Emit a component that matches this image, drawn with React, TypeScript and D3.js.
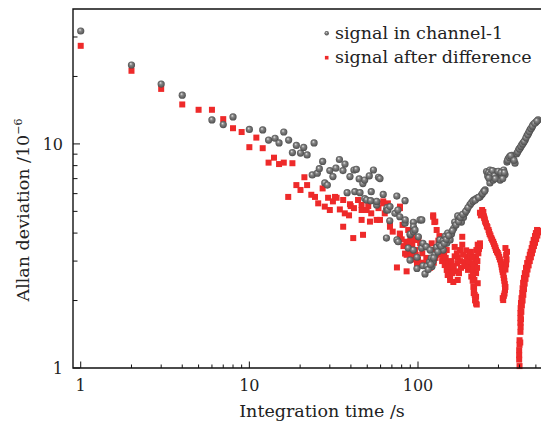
import React from "react";
import * as d3 from "d3";

// [integration time (s), Allan deviation (1e-6)]
const channel1: [number, number][] = [
  [1, 31.9], [2, 22.5], [3, 18.5], [4, 16.5], [6, 12.8], [7, 12.2], [8, 13.2], [10, 11.6],
  [12, 11.55], [13, 10.4], [14.2, 10.6], [15, 10.1], [16, 11.3], [17.1, 10.4], [18, 9.15],
  [19, 9.85], [20.1, 9.1], [21, 9.65], [22, 8.93], [23.6, 7.27], [24.2, 10.1], [25.3, 7.4],
  [26, 7.75], [27.2, 8.35], [28, 6.7], [29, 6.55], [30, 7.6], [31.3, 7.15], [32.6, 7.8],
  [34.2, 8.52], [35.9, 7.6], [36.9, 8.13], [38, 6.06], [39.5, 7.15], [41.7, 7.65], [42.2, 6.12],
  [43.1, 7.7], [44.8, 6.98], [45.3, 6.06], [47.1, 6.65], [48.3, 6.9], [48.3, 5.7], [49.6, 5.62],
  [51.4, 7.2], [52.4, 5.58], [52.8, 6.12], [54.4, 7.65], [56.8, 5.34], [56.9, 5.54], [58.3, 7.1],
  [59.5, 7.0], [62.2, 5.95], [65, 5.07], [65.5, 5.2], [65, 3.8], [66.3, 5.07], [68.2, 5.25],
  [68, 4.54], [73, 4.9], [74.9, 5.85], [75, 3.73], [76, 5.07], [76.3, 3.66], [78, 4.73],
  [83.8, 5.58], [83.8, 4.43], [84, 4.58], [87.5, 3.43], [89.7, 3.93], [89.7, 3.03], [90, 3.96],
  [93.9, 4.47], [94, 4.27], [94, 4.06], [93.9, 3.36], [96, 4.13], [98.6, 2.78], [98.6, 3.12],
  [100.5, 3.85], [102.8, 4.58], [105.3, 4.58], [105, 3.43], [107, 3.6], [107, 2.86], [110, 2.63],
  [112, 3.48], [113, 2.85], [117, 2.97], [118, 3.36], [120, 3.1], [121, 2.84], [123, 3.0],
  [126, 3.2], [129, 3.46], [134, 3.57], [135, 3.73], [141, 3.7], [141, 3.36], [145, 3.88],
  [148, 3.6], [150, 4.0], [153, 3.8], [155, 3.73], [158, 3.96], [163, 4.2], [165, 4.48],
  [172, 4.77], [176, 4.58], [181, 4.48], [186, 4.7], [190, 4.92], [195, 5.07], [203, 5.34],
  [209, 5.5], [214, 5.62], [220, 5.68], [226, 5.74], [233, 5.8], [238, 5.93], [245, 6.12],
  [250, 6.23],
  [115, 2.75], [119, 2.9], [124, 3.1], [131, 3.3], [137, 3.5], [143, 3.6], [147, 3.75],
  [152, 3.9], [160, 4.1], [168, 4.35], [174, 4.5], [178, 4.7], [184, 4.85], [192, 5.0],
  [198, 5.2], [206, 5.42], [212, 5.55], [218, 5.6], [229, 5.77], [241, 6.0], [248, 6.15],
  [255, 7.53], [259, 7.2], [267, 7.65], [267, 6.7], [273, 7.27], [279, 6.9], [290, 7.53],
  [296, 7.1], [302, 7.3], [307, 7.4], [307, 6.9], [315, 7.2], [322, 7.65], [328, 7.3],
  [262, 7.45], [270, 7.35], [276, 7.6], [284, 7.2], [287, 7.0], [299, 7.55], [311, 7.45],
  [318, 7.0], [325, 7.45], [263, 7.05],
  [337, 8.3], [343, 8.6], [351, 8.8], [360, 8.9], [366, 8.6], [376, 8.2], [385, 9.05],
  [395, 9.4], [403, 9.6], [412, 9.9], [421, 10.1], [432, 10.4], [443, 10.9], [453, 11.2],
  [462, 11.55], [472, 11.8], [482, 12.2], [500, 12.5], [515, 12.8],
  [340, 8.45], [348, 8.7], [355, 8.85], [371, 8.45], [390, 9.2], [399, 9.5], [408, 9.75],
  [417, 10.0], [426, 10.25], [437, 10.65], [448, 11.0], [457, 11.35], [467, 11.7], [477, 12.0],
  [491, 12.35], [508, 12.65],
];

const difference: [number, number][] = [
  [1, 27.4], [2, 21.2], [3, 17.6], [4, 15.0], [5, 14.2], [6, 14.2], [7, 12.9], [8, 11.75],
  [9, 11.3], [10, 9.67], [11, 10.67], [12, 9.57], [13, 8.25], [14, 8.68], [15, 8.13], [16, 8.25],
  [17, 5.8], [18, 8.2], [19, 6.55], [20.1, 6.23], [21.2, 7.1], [22, 6.55], [23.3, 5.93],
  [24.5, 5.8], [25.6, 5.43], [27.2, 6.33], [28, 5.25], [29.3, 5.75], [30, 5.07], [31.3, 5.54],
  [32.2, 5.8], [32.9, 5.75], [34.4, 5.1], [36, 5.62], [36, 4.27], [36.8, 4.9], [39, 4.8],
  [39.5, 5.38], [39.9, 5.28], [41.3, 3.8], [41.7, 5.17], [44.1, 5.62], [46.3, 5.07], [46.3, 5.34],
  [46.3, 4.58], [47.2, 3.93], [49.6, 5.07], [50.7, 5.28], [51.9, 4.5], [52.8, 4.9], [56.9, 4.58],
  [58.3, 5.17], [59.5, 4.58], [62.2, 5.43], [62.2, 5.54], [63.5, 4.9], [66.3, 5.43], [68.2, 4.43],
  [68.2, 4.27], [70.8, 4.06], [75, 2.81], [78.2, 5.25], [78.2, 5.17], [78.2, 3.93], [78, 3.98],
  [81, 4.35], [83.8, 3.24], [85.6, 3.66], [85.6, 3.6], [85.6, 3.2], [85.6, 2.7], [87.5, 4.13],
  [89.7, 3.31], [92, 3.85], [92, 3.15], [92.5, 3.54], [96, 3.73], [96, 3.36], [98.6, 2.93],
  [100.5, 3.73], [103, 3.6], [110, 2.88], [110, 2.93], [114, 3.47], [120.6, 3.6], [121, 3.36],
  [123, 4.73], [123, 4.8], [125, 4.48], [126.6, 4.5], [129, 4.13], [134, 3.88], [135, 3.2],
  [141, 3.48], [141, 3.6], [141, 3.05], [144, 2.88], [148, 2.74], [148, 3.36], [151, 2.97],
  [155, 2.56], [155, 2.47], [159, 2.74], [162, 2.42], [165, 3.15], [165, 3.47], [171, 2.93],
  [172, 2.47], [172, 3.1], [177.5, 3.36], [183, 3.85], [183, 3.55], [188, 2.97], [195, 3.15],
  [198, 2.74], [203, 2.84], [203, 3.24], [207, 2.56], [210, 2.93], [214, 2.16], [215, 2.31],
  [216, 2.47], [218, 2.88], [218, 2.01], [221, 3.03], [221, 3.15], [221, 2.65], [221, 2.08],
  [221, 1.94], [222, 3.36], [226, 3.55], [226, 2.39], [233, 3.6], [233, 3.5],
  [80, 3.75], [82, 3.5], [88, 3.45], [90, 3.7], [94, 3.05], [97, 3.2], [100, 3.05], [104, 2.95],
  [106, 3.25], [112, 3.1], [116, 2.95], [118, 2.8], [124, 2.95], [127, 3.1], [130, 3.4],
  [132, 3.7], [137, 3.35], [139, 3.0], [143, 3.25], [146, 3.1], [150, 2.6], [152, 2.85],
  [157, 3.0], [160, 2.65], [163, 2.85], [168, 2.7], [170, 3.25], [175, 2.65], [178, 3.0],
  [180, 2.8], [185, 3.2], [190, 2.85], [193, 3.35], [200, 3.0], [205, 3.15],
  [206, 3.3], [210, 3.1], [212, 2.9], [213, 2.75], [212, 2.6], [211, 2.45], [213, 2.3],
  [215, 2.2], [217, 2.12], [219, 2.0], [223, 1.92], [224, 2.8], [225, 3.0], [228, 3.25],
  [230, 3.4],
  [233, 4.93], [240, 5.07], [244, 4.97], [247, 4.67], [250, 4.5], [256, 4.3], [262, 4.13],
  [266, 3.96], [272, 3.8], [279, 3.66], [285, 3.5], [290, 3.36], [297, 3.26], [303, 3.13],
  [310, 2.97], [314, 2.82], [318, 2.68], [323, 2.52], [327, 2.37], [328, 2.23], [323, 2.1],
  [320, 2.01], [330, 3.43], [337, 3.3],
  [236, 4.8], [242, 4.85], [246, 4.75], [249, 4.6], [253, 4.42], [258, 4.25], [264, 4.05],
  [269, 3.9], [275, 3.74], [282, 3.58], [288, 3.44], [294, 3.3], [300, 3.2], [306, 3.05],
  [312, 2.9], [316, 2.75], [321, 2.6], [325, 2.45], [330, 2.3], [326, 2.15], [318, 2.05],
  [333, 3.2], [335, 3.05], [333, 2.9], [330, 2.75],
  [398, 1.2], [398, 1.14], [398, 1.09], [400, 1.02], [400, 1.33], [400, 1.27], [405, 1.45],
  [406, 1.53], [405, 1.59], [405, 1.67], [405, 1.76], [406, 1.85], [408, 1.95], [411, 2.05],
  [415, 2.16], [417, 2.27], [420, 2.4], [425, 2.52], [430, 2.65], [437, 2.8], [444, 2.94],
  [452, 3.07], [460, 3.2], [465, 3.3], [472, 3.43], [478, 3.58], [485, 3.73], [494, 3.88],
  [500, 4.0], [508, 4.13],
  [404, 1.3], [408, 1.65], [410, 1.78], [413, 1.9], [417, 2.0], [421, 2.12], [425, 2.25],
  [429, 2.38], [434, 2.5], [440, 2.62], [446, 2.75], [453, 2.87], [460, 3.0], [467, 3.12],
  [474, 3.25], [480, 3.37], [487, 3.5], [494, 3.62], [502, 3.76], [510, 3.9], [518, 4.03],
  [524, 4.1],
];

const xMajorTicks = [1, 10, 100];
const yMajorTicks = [1, 10];
const xTitle = "Integration time /s";
const yTitleMain = "Allan deviation /10";
const yTitleExp = "\u22126";
const legendLabels = ["signal in channel-1", "signal after difference"];

const W = 541;
const H = 428;
const FONT = "'DejaVu Serif', serif";
const RED = "#ee2a2a";

export default function App() {
  const left = 73, right = 548, top = 9, bottom = 368;
  const x = d3.scaleLog().domain([0.9, 590]).range([left, right]);
  const y = d3.scaleLog().domain([1, 40]).range([bottom, top]);

  const xMinor = x.ticks().filter((t) => t >= 1 && !xMajorTicks.includes(t));
  const yMinor = y.ticks().filter((t) => t > 1 && t < 40 && !yMajorTicks.includes(t));

  const sq = 6;
  const rad = 3.6;

  return (
    <svg
      width={W}
      height={H}
      viewBox={`0 0 ${W} ${H}`}
      style={{ position: "absolute", left: 0, top: 0, background: "#fff" }}
    >
      <defs>
        <radialGradient id="ball" cx="50%" cy="50%" r="55%" fx="38%" fy="32%">
          <stop offset="0%" stopColor="#e6e6e6" />
          <stop offset="35%" stopColor="#858585" />
          <stop offset="100%" stopColor="#474747" />
        </radialGradient>
        <clipPath id="plot">
          <rect x={left} y={top - 4} width={right - left} height={bottom - top + 8} />
        </clipPath>
      </defs>
      <rect x={0} y={0} width={W} height={H} fill="#fff" />

      <g clipPath="url(#plot)">
        <g>
          {difference.map(([t, v], i) => (
            <rect key={"r" + i} x={x(t) - sq / 2} y={y(v) - sq / 2} width={sq} height={sq} fill={RED} />
          ))}
        </g>
        <g>
          {channel1.map(([t, v], i) => (
            <circle key={"g" + i} cx={x(t)} cy={y(v)} r={rad} fill="url(#ball)" />
          ))}
        </g>
      </g>

      <path
        d={`M${right},${top}H${left}V${bottom}H${right}`}
        fill="none"
        stroke="#111"
        strokeWidth={1.4}
      />

      {xMajorTicks.map((t) => (
        <line key={"xM" + t} x1={x(t)} x2={x(t)} y1={bottom} y2={bottom - 6.5} stroke="#111" strokeWidth={1} />
      ))}
      {xMinor.map((t) => (
        <line key={"xm" + t} x1={x(t)} x2={x(t)} y1={bottom} y2={bottom - 3.5} stroke="#111" strokeWidth={1} />
      ))}
      {xMajorTicks.map((t) => (
        <text key={"xl" + t} x={x(t)} y={391} textAnchor="middle" fontFamily={FONT} fontSize={16} fill="#222">
          {t}
        </text>
      ))}

      {yMajorTicks.map((t) => (
        <line key={"yM" + t} x1={left} x2={left + 7} y1={y(t)} y2={y(t)} stroke="#111" strokeWidth={1} />
      ))}
      {yMinor.map((t) => (
        <line key={"ym" + t} x1={left} x2={left + 4.5} y1={y(t)} y2={y(t)} stroke="#111" strokeWidth={1} />
      ))}
      {yMajorTicks.map((t) => (
        <text key={"yl" + t} x={63} y={y(t) + 6} textAnchor="end" fontFamily={FONT} fontSize={16} fill="#222">
          {t}
        </text>
      ))}

      <text x={322} y={417} textAnchor="middle" fontFamily={FONT} fontSize={17.5} fill="#222">
        {xTitle}
      </text>
      <text
        transform="translate(29,210) rotate(-90)"
        textAnchor="middle"
        fontFamily={FONT}
        fontSize={17.5}
        fill="#222"
      >
        {yTitleMain}
        <tspan fontSize={11} dy={-7}>{yTitleExp}</tspan>
      </text>

      <circle cx={326.7} cy={33.3} r={2.2} fill="url(#ball)" />
      <text x={335} y={38.5} fontFamily={FONT} fontSize={17.5} fill="#222">
        {legendLabels[0]}
      </text>
      <rect x={324.9} y={55.9} width={3.6} height={3.6} fill={RED} />
      <text x={335} y={62.5} fontFamily={FONT} fontSize={17.5} fill="#222">
        {legendLabels[1]}
      </text>
    </svg>
  );
}
